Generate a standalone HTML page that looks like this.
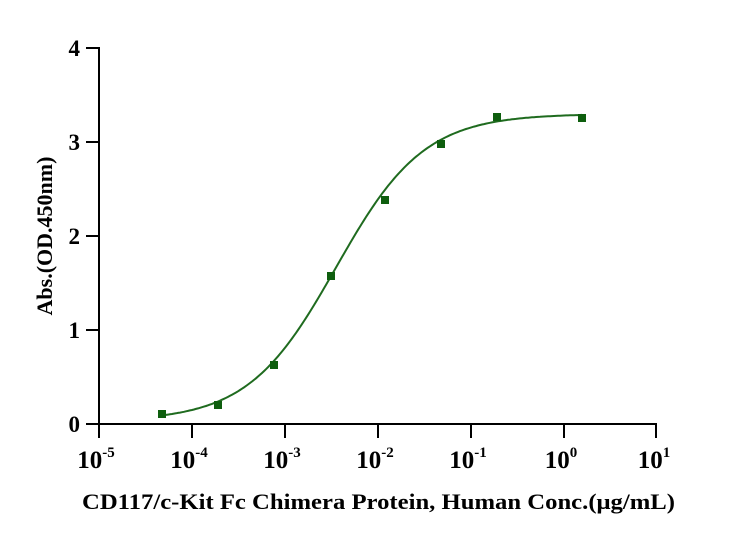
<!DOCTYPE html>
<html><head><meta charset="utf-8"><style>
html,body{margin:0;padding:0;background:#fff;width:734px;height:543px;overflow:hidden}
text{font-family:"Liberation Serif",serif;font-weight:bold;fill:#000}
</style></head><body>
<svg width="734" height="543" viewBox="0 0 734 543" xmlns="http://www.w3.org/2000/svg">
<g stroke="#000" stroke-width="2" fill="none">
<line x1="99" y1="47" x2="99" y2="425"/>
<line x1="86" y1="424" x2="657" y2="424"/>
<line x1="86" y1="48" x2="99" y2="48"/>
<line x1="86" y1="142" x2="99" y2="142"/>
<line x1="86" y1="236" x2="99" y2="236"/>
<line x1="86" y1="330" x2="99" y2="330"/>
<line x1="99" y1="424" x2="99" y2="438"/>
<line x1="192" y1="424" x2="192" y2="438"/>
<line x1="285" y1="424" x2="285" y2="438"/>
<line x1="378" y1="424" x2="378" y2="438"/>
<line x1="471" y1="424" x2="471" y2="438"/>
<line x1="564" y1="424" x2="564" y2="438"/>
<line x1="656" y1="424" x2="656" y2="438"/>
</g>
<g font-size="23" text-anchor="end">
<text x="80" y="56">4</text><text x="80" y="150">3</text><text x="80" y="244">2</text><text x="80" y="338">1</text><text x="80" y="432">0</text>
</g>
<g font-size="25" text-anchor="middle">
<text x="96" y="468">10<tspan font-size="15" dy="-11">-5</tspan></text>
<text x="189" y="468">10<tspan font-size="15" dy="-11">-4</tspan></text>
<text x="282" y="468">10<tspan font-size="15" dy="-11">-3</tspan></text>
<text x="375" y="468">10<tspan font-size="15" dy="-11">-2</tspan></text>
<text x="468" y="468">10<tspan font-size="15" dy="-11">-1</tspan></text>
<text x="561" y="468">10<tspan font-size="15" dy="-11">0</tspan></text>
<text x="654" y="468">10<tspan font-size="15" dy="-11">1</tspan></text>
</g>
<text x="82" y="509" font-size="22" textLength="593" lengthAdjust="spacingAndGlyphs">CD117/c-Kit Fc Chimera Protein, Human Conc.(μg/mL)</text>
<text transform="translate(52,236) rotate(-90)" font-size="22" text-anchor="middle">Abs.(OD.450nm)</text>
<path id="c" fill="none" stroke="#1f6b1f" stroke-width="2"/>
<g fill="#0e5e0e">
<rect x="158" y="410" width="8" height="8"/>
<rect x="214" y="401" width="8" height="8"/>
<rect x="270" y="361" width="8" height="8"/>
<rect x="327" y="272" width="8" height="8"/>
<rect x="381" y="196" width="8" height="8"/>
<rect x="437" y="140" width="8" height="8"/>
<rect x="493" y="113" width="8" height="8"/>
<rect x="578" y="114" width="8" height="8"/>
</g>
</svg>
<script>
var d="";for(var x=162;x<=582;x+=2){var v=0.03+(3.3-0.03)/(1+Math.exp(-(x-336)/44));var y=424-v*94;d+=(x==162?"M":"L")+x+","+y.toFixed(1);}
document.getElementById("c").setAttribute("d",d);
</script>
</body></html>
